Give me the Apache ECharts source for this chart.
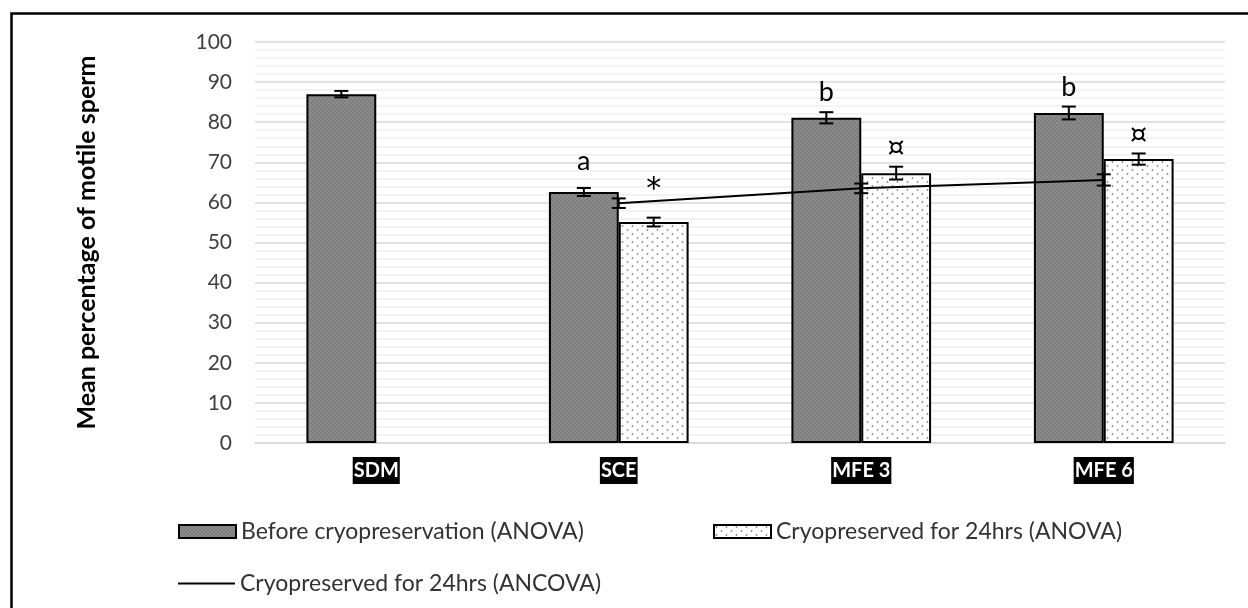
<!DOCTYPE html>
<html>
<head>
<meta charset="utf-8">
<script src="https://cdn.jsdelivr.net/npm/echarts@6/dist/echarts.min.js"></script>
<style>
  html, body { margin: 0; padding: 0; background: #fff; }
  #chart { width: 1248px; height: 608px; }
</style>
</head>
<body>
<div id="chart"></div>
<script>
// Treatment groups on the x axis
const categories = ['SDM', 'SCE', 'MFE 3', 'MFE 6'];

// Motility before cryopreservation (ANOVA): mean and SEM
const beforeMeans = [87.0, 62.6, 81.1, 82.3];
const beforeErrors = [0.8, 1.0, 1.4, 1.6];

// Motility after 24 h cryopreservation (ANOVA): mean and SEM
const cryoMeans = [null, 55.1, 67.3, 70.8];
const cryoErrors = [null, 1.1, 1.6, 1.4];

// Adjusted means after 24 h cryopreservation (ANCOVA)
const ancovaMeans = [null, 59.8, 63.5, 65.6];
const ancovaErrors = [null, 1.2, 1.2, 1.4];

// Significance letters above the bars
const beforeMarks = ['', 'a', 'b', 'b'];
const cryoMarks = ['', '*', '¤', '¤'];

const yTicks = { min: 0, max: 100, step: 10 };

const FONT = 'Lato, "Open Sans", sans-serif';
const BAR_FRACTION = 0.288; // width of each bar relative to the category band

// Font and lift (px above the error cap) for each kind of mark
const MARK_STYLE = {
  '*': { font: '30px "DejaVu Sans", sans-serif', lift: 12 },
  '¤': { font: '27px "DejaVu Sans", sans-serif', lift: 4 },
  'a': { font: '27px ' + FONT, lift: 13 },
  'b': { font: '27px ' + FONT, lift: 6 }
};

// Dotted fill tiles for the two bar series
function makeTile(bg, dot, w, h, dots, r) {
  const c = document.createElement('canvas');
  c.width = w; c.height = h;
  const g = c.getContext('2d');
  g.fillStyle = bg; g.fillRect(0, 0, w, h);
  g.fillStyle = dot;
  dots.forEach(([x, y]) => { g.beginPath(); g.arc(x, y, r, 0, Math.PI * 2); g.fill(); });
  return c;
}
const darkTile = makeTile('#8a8a8a', '#6e6e6e', 4, 4, [[1, 1], [3, 3]], 0.7);
const lightTile = makeTile('#ffffff', '#8c8c8c', 10, 8, [[2.5, 2], [7.5, 6]], 0.9);

function errorRows(means, errors, marks) {
  return means.map((m, i) => m == null ? null : [i, m, errors[i], marks ? marks[i] : '']).filter(Boolean);
}

// Error bars (plus optional significance mark) drawn at a horizontal offset within the band
function errorBarRenderer(shift) {
  return function (params, api) {
    const band = api.size([1, 0])[0];
    const dx = band * BAR_FRACTION * shift;
    const x = api.coord([api.value(0), 0])[0] + dx;
    const mean = api.value(1), err = api.value(2);
    const yHi = api.coord([api.value(0), mean + err])[1];
    const yLo = api.coord([api.value(0), mean - err])[1];
    const cap = 7;
    const style = { stroke: '#000', lineWidth: 2 };
    const children = [
      { type: 'line', shape: { x1: x, y1: yHi, x2: x, y2: yLo }, style },
      { type: 'line', shape: { x1: x - cap, y1: yHi, x2: x + cap, y2: yHi }, style },
      { type: 'line', shape: { x1: x - cap, y1: yLo, x2: x + cap, y2: yLo }, style }
    ];
    const mark = api.value(3);
    if (mark) {
      const ms = MARK_STYLE[mark];
      children.push({
        type: 'text',
        style: {
          text: mark, x: x, y: yHi - ms.lift,
          align: 'center', verticalAlign: 'bottom',
          font: ms.font, fill: '#000'
        }
      });
    }
    return { type: 'group', children };
  };
}

const legendText = { fontSize: 23, color: '#333', fontFamily: FONT };

const chart = echarts.init(document.getElementById('chart'), null, { renderer: 'canvas' });

chart.setOption({
  animation: false,
  backgroundColor: '#ffffff',
  textStyle: { fontFamily: FONT },
  graphic: [{
    type: 'rect', left: 9, top: 11, z: 100, silent: true,
    shape: { width: 1300, height: 700 },
    style: { fill: 'none', stroke: '#000', lineWidth: 2.5 }
  }],
  grid: { left: 255, right: 23, top: 42, bottom: 165 },
  legend: [
    {
      left: 173, top: 515, itemWidth: 57, itemHeight: 13, icon: 'rect',
      textStyle: legendText,
      data: ['Before cryopreservation (ANOVA)']
    },
    {
      left: 708, top: 515, itemWidth: 57, itemHeight: 13, icon: 'rect',
      textStyle: legendText,
      data: ['Cryopreserved for 24hrs (ANOVA)']
    },
    {
      left: 173, top: 567, itemWidth: 57, itemHeight: 2, icon: 'rect',
      textStyle: legendText,
      data: ['Cryopreserved for 24hrs (ANCOVA)']
    }
  ],
  xAxis: {
    type: 'category',
    data: categories,
    axisLine: { lineStyle: { color: '#d9d9d9', width: 1.5 } },
    axisTick: { show: false },
    axisLabel: {
      margin: 14,
      color: '#fff',
      backgroundColor: '#000',
      fontWeight: 'bold',
      fontSize: 20,
      fontFamily: FONT,
      padding: [4, 1, 3, 1]
    }
  },
  yAxis: {
    type: 'value',
    min: yTicks.min, max: yTicks.max, interval: yTicks.step,
    name: 'Mean percentage of motile sperm',
    nameLocation: 'middle',
    nameGap: 156,
    nameTextStyle: { fontSize: 25, fontWeight: 'bold', color: '#000', fontFamily: FONT },
    axisLine: { show: false },
    axisTick: { show: false },
    axisLabel: { fontSize: 21, color: '#404040', margin: 23, fontFamily: FONT },
    splitLine: { lineStyle: { color: '#d9d9d9', width: 1.5 } },
    minorTick: { show: false, splitNumber: 5 },
    minorSplitLine: { show: true, lineStyle: { color: '#efefef', width: 1.5 } }
  },
  series: [
    {
      name: 'Before cryopreservation (ANOVA)',
      type: 'bar',
      data: beforeMeans,
      barWidth: (BAR_FRACTION * 100) + '%',
      barGap: '0%',
      itemStyle: { color: { image: darkTile, repeat: 'repeat' }, borderColor: '#000', borderWidth: 2 }
    },
    {
      name: 'Cryopreserved for 24hrs (ANOVA)',
      type: 'bar',
      data: cryoMeans,
      barWidth: (BAR_FRACTION * 100) + '%',
      barGap: '0%',
      itemStyle: { color: { image: lightTile, repeat: 'repeat' }, borderColor: '#000', borderWidth: 2 }
    },
    {
      name: 'Cryopreserved for 24hrs (ANCOVA)',
      type: 'line',
      data: ancovaMeans,
      symbol: 'none',
      z: 5,
      lineStyle: { color: '#000', width: 2 },
      itemStyle: { color: '#000' }
    },
    {
      type: 'custom', z: 6,
      renderItem: errorBarRenderer(-0.5),
      data: errorRows(beforeMeans, beforeErrors, beforeMarks)
    },
    {
      type: 'custom', z: 6,
      renderItem: errorBarRenderer(0.5),
      data: errorRows(cryoMeans, cryoErrors, cryoMarks)
    },
    {
      type: 'custom', z: 7,
      renderItem: errorBarRenderer(0),
      data: errorRows(ancovaMeans, ancovaErrors)
    }
  ]
});
</script>
</body>
</html>
